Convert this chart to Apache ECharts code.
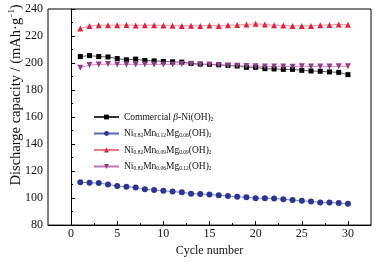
<!DOCTYPE html>
<html><head><meta charset="utf-8">
<script src="https://cdn.jsdelivr.net/npm/echarts@6/dist/echarts.min.js"></script>
<style>html,body{margin:0;padding:0;background:#fff}#c{width:380px;height:262px}</style>
</head><body><div id="c"></div>
<script>
const cycles = [1,2,3,4,5,6,7,8,9,10,11,12,13,14,15,16,17,18,19,20,21,22,23,24,25,26,27,28,29,30];
const commercial = [204.8,205.5,204.8,204.5,203.3,202.4,202.9,201.9,201.6,201.2,200.9,200.7,199.7,199.2,199.0,198.7,198.2,197.8,196.8,196.8,195.8,195.6,195.3,195.3,194.6,194.1,193.9,193.4,193.1,191.4];
const mn12mg06 = [111.8,111.3,111.1,110.1,108.9,108.4,107.9,106.5,106.0,105.5,104.8,104.3,103.3,103.1,102.6,102.1,101.6,100.9,100.6,99.9,99.9,99.7,99.2,98.5,98.0,97.5,96.8,96.8,96.3,95.8];
const mn09mg09 = [225.5,227.5,228.0,228.0,228.0,228.2,227.8,228.0,228.0,227.8,227.6,227.5,227.6,227.5,227.8,227.5,228.0,228.2,228.5,229.0,228.6,228.0,227.8,227.5,227.4,227.5,228.0,228.2,228.6,228.3];
const mn06mg12 = [196.5,198.5,199.0,199.2,199.0,199.0,199.0,199.0,199.0,199.0,199.0,199.3,199.2,199.0,198.8,198.5,198.2,198.0,197.8,197.6,197.5,197.5,197.5,197.3,197.6,197.5,197.4,197.5,197.6,197.6];
const seriesNames = ['Commercial β-Ni(OH)2','Ni0.82Mn0.12Mg0.06(OH)2','Ni0.82Mn0.09Mg0.09(OH)2','Ni0.82Mn0.06Mg0.12(OH)2'];
const legendRich = [
  '{t|Commercial }{it|β}{t|-Ni(OH)}{s|2}',
  '{t|Ni}{s|0.82}{t|Mn}{s|0.12}{t|Mg}{s|0.06}{t|(OH)}{s|2}',
  '{t|Ni}{s|0.82}{t|Mn}{s|0.09}{t|Mg}{s|0.09}{t|(OH)}{s|2}',
  '{t|Ni}{s|0.82}{t|Mn}{s|0.06}{t|Mg}{s|0.12}{t|(OH)}{s|2}'
];
const majorX = [0,5,10,15,20,25,30];
const minorX = [2.5,7.5,12.5,17.5,22.5,27.5];
const xTitle = 'Cycle number';

const F = '"Liberation Serif","DejaVu Serif",serif';
const colors = ['#000000','#2b3497','#e5203b','#98378f'];
const lineColors = ['#333333','#5a63b5','#f0788a','#b878b0'];
const symbols = ['rect','circle','triangle','path://M0,0 L10,0 L5,9 Z'];
const sizes = [5,6,6,6];
const datasets = [commercial, mn12mg06, mn09mg09, mn06mg12];

const chart = echarts.init(document.getElementById('c'), null, {renderer:'canvas'});
chart.setOption({
  animation:false,
  backgroundColor:'#fff',
  grid:{left:48,right:9,top:9,bottom:33,show:true,borderColor:'#000',borderWidth:1,backgroundColor:'transparent'},
  xAxis:[{
    type:'value',min:-2.5,max:32.5,
    name:xTitle,nameLocation:'middle',nameGap:19,
    nameTextStyle:{fontFamily:F,fontSize:12,color:'#111'},
    axisLine:{lineStyle:{color:'#000',width:1}},
    axisTick:{inside:true,length:4,customValues:majorX,lineStyle:{color:'#000'}},
    axisLabel:{customValues:majorX,fontFamily:F,fontSize:12,color:'#111',margin:3},
    splitLine:{show:false}
  },{
    type:'value',min:-2.5,max:32.5,position:'bottom',
    axisLine:{show:false},
    axisTick:{inside:true,length:2,customValues:minorX,lineStyle:{color:'#000'}},
    axisLabel:{show:false},splitLine:{show:false}
  }],
  yAxis:{
    type:'value',min:80,max:240,interval:20,
    axisLine:{show:true,lineStyle:{color:'#000',width:1}},
    axisTick:{show:true,inside:true,length:4,lineStyle:{color:'#000'}},
    minorTick:{show:true,splitNumber:2,length:2,lineStyle:{color:'#000'}},
    axisLabel:{fontFamily:F,fontSize:12,color:'#111',margin:5},
    splitLine:{show:false}
  },
  legend:{
    orient:'vertical',left:88,top:107,itemWidth:25,itemHeight:6,itemGap:6,
    data:seriesNames,
    formatter:function(n){return legendRich[seriesNames.indexOf(n)];},
    textStyle:{fontFamily:F,color:'#111',rich:{
      t:{fontFamily:F,fontSize:9.5,color:'#111',lineHeight:11},
      it:{fontFamily:F,fontSize:9.5,fontStyle:'italic',color:'#111',lineHeight:11},
      s:{fontFamily:F,fontSize:5.5,color:'#111',verticalAlign:'bottom',lineHeight:8}
    }}
  },
  graphic:[{
    type:'text',x:16,y:95,rotation:Math.PI/2,
    style:{
      text:'{t|Discharge capacity / (mAh·g}{p|−1}{t|)}',
      align:'center',verticalAlign:'middle',
      rich:{
        t:{fontFamily:F,fontSize:14.5,fill:'#111',lineHeight:16},
        p:{fontFamily:F,fontSize:8,fill:'#111',verticalAlign:'top',lineHeight:16}
      }
    }
  }],
  series:datasets.map(function(d,i){
    return {
      name:seriesNames[i],type:'line',xAxisIndex:0,
      data:cycles.map(function(c,j){return [c,d[j]];}),
      symbol:symbols[i],symbolSize:sizes[i],showSymbol:true,
      itemStyle:{color:colors[i]},
      lineStyle:{color:lineColors[i],width:0.8}
    };
  })
});
</script></body></html>
